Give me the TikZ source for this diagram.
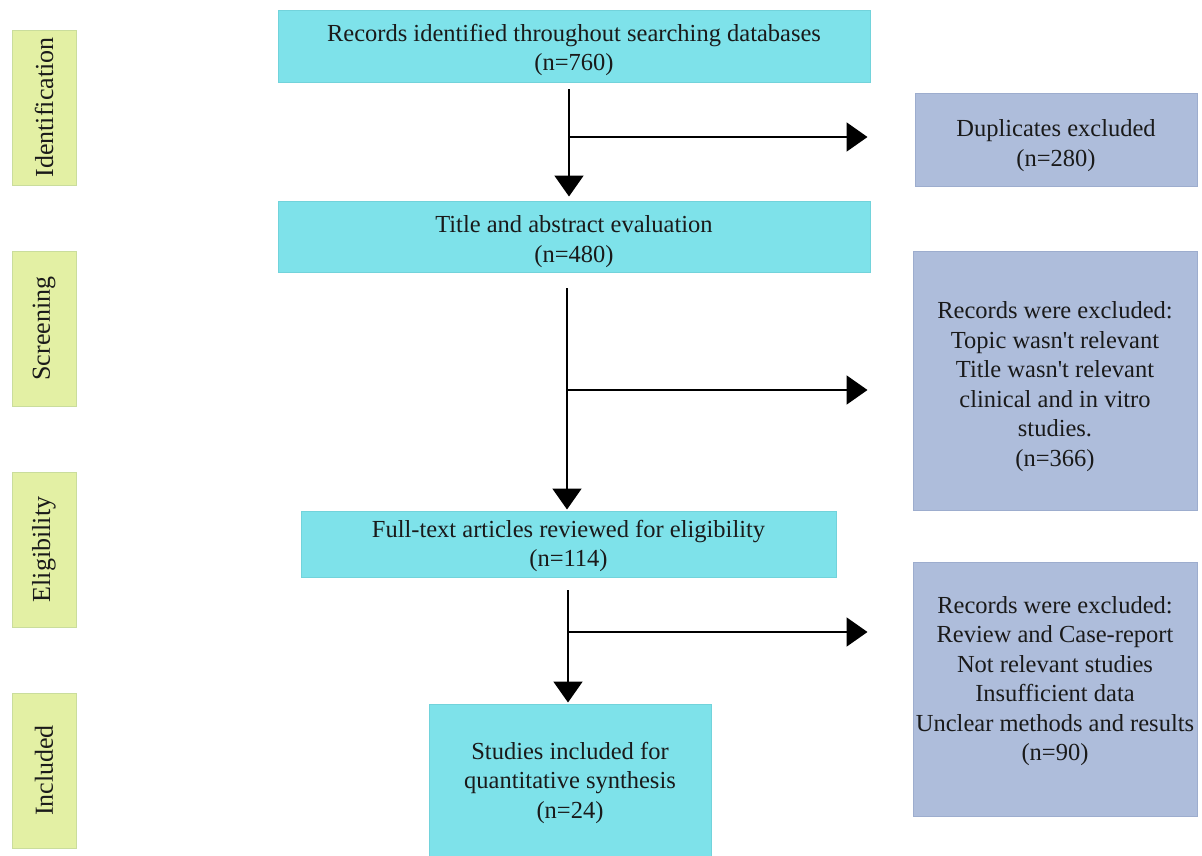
\documentclass[tikz,border=0pt]{standalone}
\usepackage{fontspec}
\setmainfont{Liberation Serif}[Ligatures=TeXOff]
\usetikzlibrary{arrows.meta}
\definecolor{cyanfill}{HTML}{7EE2EA}
\definecolor{cyanline}{HTML}{72D3DB}
\definecolor{slatefill}{HTML}{AEBDDB}
\definecolor{slateline}{HTML}{9DADCE}
\definecolor{stagefill}{HTML}{E3F0A4}
\definecolor{stageline}{HTML}{CADD9C}
\definecolor{txt}{HTML}{1A1A1A}
\tikzset{
  mainbox/.style={draw=cyanline, line width=1pt, fill=cyanfill, inner sep=0pt},
  exclbox/.style={draw=slateline, line width=1pt, fill=slatefill, inner sep=0pt},
  boxtext/.style={inner sep=0pt, align=center, text=txt, font=\fontsize{24.5}{29.5}\selectfont},
  stagebox/.style={draw=stageline, line width=1pt, fill=stagefill, inner sep=0pt,
    minimum width=64pt, minimum height=155pt},
  stagetext/.style={rotate=90, text=txt, font=\fontsize{26}{30}\selectfont},
  arr/.style={line width=2pt, -{Triangle[length=21pt,width=29pt]}}
}
\begin{document}
\begin{tikzpicture}[x=1pt,y=-1pt]
\useasboundingbox (0,0) rectangle (1202,855);
% stage labels
\node[stagebox] (st1) at (44,107.5) {};
\node[stagetext] (st1t) at (st1.center) {Identification};
\node[stagebox] (st2) at (44,328.5) {};
\node[stagetext] (st2t) at (st2.center) {Screening};
\node[stagebox] (st3) at (44,549.5) {};
\node[stagetext] (st3t) at (st3.center) {Eligibility};
\node[stagebox] (st4) at (44,770.5) {};
\node[stagetext] (st4t) at (st4.center) {Included};
% main boxes
\node[mainbox, minimum width=592pt, minimum height=72pt] (b1) at (574,46) {};
\node[boxtext] (b1t) at ([yshift=-4pt]b1.center)
  {Records identified throughout searching databases\\(n=760)};
\node[mainbox, minimum width=592pt, minimum height=71pt] (b2) at (574,236.5) {};
\node[boxtext] (b2t) at ([yshift=-5pt]b2.center)
  {Title and abstract evaluation\\(n=480)};
\node[mainbox, minimum width=535pt, minimum height=66pt] (b3) at (568.5,544) {};
\node[boxtext] (b3t) at ([yshift=-2pt]b3.center)
  {Full-text articles reviewed for eligibility\\(n=114)};
\node[mainbox, minimum width=282pt, minimum height=153pt] (b4) at (570,780.5) {};
\node[boxtext] (b4t) at ([yshift=-2pt]b4.center)
  {Studies included for\\quantitative synthesis\\(n=24)};
% exclusion boxes
\node[exclbox, minimum width=282pt, minimum height=93pt] (e1) at (1056,139.5) {};
\node[boxtext] (e1t) at ([yshift=-6pt]e1.center)
  {Duplicates excluded\\(n=280)};
\node[exclbox, minimum width=284pt, minimum height=259pt] (e2) at (1055,380.5) {};
\node[boxtext] (e2t) at ([yshift=-6pt]e2.center)
  {Records were excluded:\\Topic wasn't relevant\\Title wasn't relevant\\clinical and in vitro\\studies.\\(n=366)};
\node[exclbox, minimum width=284pt, minimum height=254pt] (e3) at (1055,689) {};
\node[boxtext] (e3t) at (1055,681)
  {Records were excluded:\\Review and Case-report\\Not relevant studies\\Insufficient data\\Unclear methods and results\\(n=90)};
% connectors
\coordinate (s1) at (569,89);
\coordinate (k1) at (569,137);
\draw[arr, shorten >=4pt] (s1) -- (s1 |- b2.north);
\draw[arr, shorten >=47pt] (k1) -- (k1 -| e1.west);
\coordinate (s2) at (567,288);
\coordinate (k2) at (567,390);
\draw[arr, shorten >=1pt] (s2) -- (s2 |- b3.north);
\draw[arr, shorten >=45pt] (k2) -- (k2 -| e2.west);
\coordinate (s3) at (568,590);
\coordinate (k3) at (568,632);
\draw[arr, shorten >=1pt] (s3) -- (s3 |- b4.north);
\draw[arr, shorten >=45pt] (k3) -- (k3 -| e3.west);
\end{tikzpicture}
\end{document}
